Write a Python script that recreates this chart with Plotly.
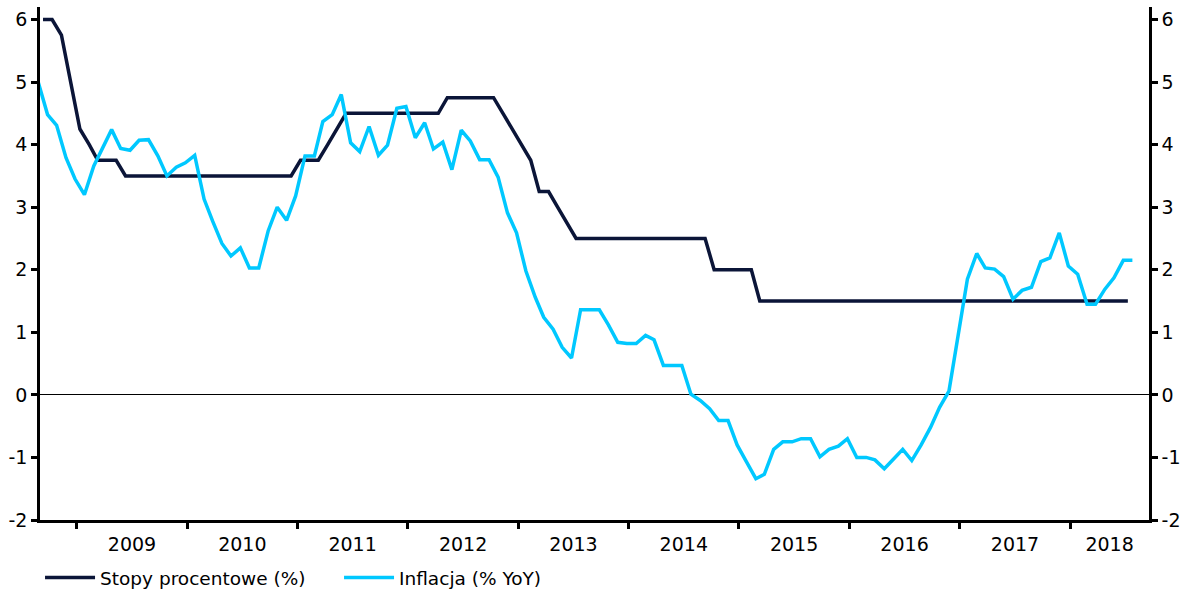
import pandas as pd
import plotly.graph_objects as go

# ---- data -------------------------------------------------------------
# NBP reference rate, monthly Sep 2008 - Jul 2018
rate_months = pd.date_range("2008-09-01", "2018-07-01", freq="MS")
stopy = (
    [6.0, 6.0, 5.75, 5.0]                                   # 2008 Sep-Dec
    + [4.25, 4.0, 3.75, 3.75, 3.75] + [3.5] * 7              # 2009
    + [3.5] * 12                                             # 2010
    + [3.75, 3.75, 3.75, 4.0, 4.25] + [4.5] * 7              # 2011
    + [4.5] * 4 + [4.75] * 6 + [4.5, 4.25]                   # 2012
    + [4.0, 3.75, 3.25, 3.25, 3.0, 2.75] + [2.5] * 6         # 2013
    + [2.5] * 9 + [2.0] * 3                                  # 2014
    + [2.0, 2.0] + [1.5] * 10                                # 2015
    + [1.5] * 12                                             # 2016
    + [1.5] * 12                                             # 2017
    + [1.5] * 7                                              # 2018 Jan-Jul
)

# CPI inflation y/y, monthly Aug 2008 - Jul 2018
infl_months = pd.date_range("2008-08-01", "2018-07-01", freq="MS")
inflacja = [
    5.0,
    4.48, 4.31, 3.79, 3.45, 3.20, 3.66, 3.95, 4.24, 3.94, 3.91, 4.07, 4.08,
    3.82, 3.50, 3.64, 3.71, 3.83, 3.13, 2.78, 2.42, 2.22, 2.35, 2.03, 2.03,
    2.62, 3.00, 2.79, 3.18, 3.82, 3.82, 4.37, 4.48, 4.80, 4.03, 3.89, 4.29,
    3.83, 3.99, 4.58, 4.61, 4.11, 4.35, 3.93, 4.04, 3.60, 4.23, 4.06, 3.76,
    3.76, 3.48, 2.91, 2.59, 1.98, 1.56, 1.24, 1.05, 0.76, 0.59, 1.36, 1.36,
    1.36, 1.12, 0.84, 0.82, 0.82, 0.95, 0.88, 0.47, 0.47, 0.47, 0.01, -0.09,
    -0.22, -0.41, -0.41, -0.80, -1.07, -1.34, -1.27, -0.87, -0.75, -0.75, -0.70, -0.70,
    -0.99, -0.87, -0.82, -0.70, -1.00, -1.00, -1.04, -1.18, -1.03, -0.87, -1.05, -0.80,
    -0.52, -0.20, 0.06, 0.90, 1.85, 2.26, 2.03, 2.01, 1.89, 1.53, 1.67, 1.72,
    2.13, 2.19, 2.59, 2.06, 1.93, 1.45, 1.45, 1.69, 1.87, 2.15, 2.15,
]

years = [2009, 2010, 2011, 2012, 2013, 2014, 2015, 2016, 2017, 2018]
y_ticks = [-2, -1, 0, 1, 2, 3, 4, 5, 6]
y_tick_text = ["-2", "-1", "0", "1", "2", "3", "4", "5", "6"]

# ---- layout helpers ---------------------------------------------------
x_start = pd.Timestamp("2008-09-01")
x_end = pd.Timestamp("2018-09-19")
rate_x = rate_months + pd.DateOffset(days=10)
infl_x = infl_months + pd.DateOffset(days=25)

year_starts = [pd.Timestamp(f"{y}-01-01") for y in years]
label_pos = []
for y in years:
    a = pd.Timestamp(f"{y}-01-01")
    b = min(pd.Timestamp(f"{y + 1}-01-01"), x_end)
    label_pos.append(a + (b - a) / 2)

NAVY = "#0b1538"
CYAN = "#00c8ff"
FONT = "DejaVu Sans"

fig = go.Figure()
fig.add_trace(go.Scatter(
    x=rate_x, y=stopy, mode="lines", name="Stopy procentowe (%)",
    line=dict(color=NAVY, width=3.5),
))
fig.add_trace(go.Scatter(
    x=infl_x, y=inflacja, mode="lines", name="Inflacja (% YoY)",
    line=dict(color=CYAN, width=3.5),
))
# helper trace to create the secondary axes (labels + right axis)
fig.add_trace(go.Scatter(
    x=[], y=[], xaxis="x2", yaxis="y2", showlegend=False, hoverinfo="skip",
))

fig.update_layout(
    width=1188, height=593,
    margin=dict(l=40, r=39, t=7, b=73),
    paper_bgcolor="white", plot_bgcolor="white",
    font=dict(family=FONT, size=19, color="black"),
    showlegend=True,
    legend=dict(
        orientation="h", xref="container", yref="container",
        x=0.0337, xanchor="left", y=0.0253, yanchor="middle",
        font=dict(size=18.5, family=FONT, color="black"),
        itemwidth=50, entrywidth=234, bgcolor="rgba(0,0,0,0)",
        traceorder="normal",
    ),
    xaxis=dict(
        type="date", range=[x_start, x_end], tickvals=year_starts,
        showticklabels=False, ticks="outside", ticklen=6, tickwidth=2.5,
        tickcolor="black", showline=True, linecolor="black", linewidth=2.5,
        showgrid=False, zeroline=False, automargin=False,
    ),
    xaxis2=dict(
        type="date", range=[x_start, x_end], overlaying="x", anchor="y2",
        side="bottom", tickvals=label_pos, ticktext=[str(y) for y in years],
        ticks="outside", ticklen=7, tickcolor="rgba(0,0,0,0)",
        showline=False, showgrid=False, zeroline=False, automargin=False,
        tickfont=dict(family=FONT, size=19, color="black"),
    ),
    yaxis=dict(
        range=[-2, 6.2], tickvals=y_ticks, ticktext=y_tick_text,
        ticks="outside", ticklen=6,
        tickwidth=2.5, tickcolor="black", showline=True, linecolor="black",
        linewidth=2.5, showgrid=False, zeroline=True, zerolinecolor="black",
        zerolinewidth=1, automargin=False,
        tickfont=dict(family=FONT, size=19, color="black"),
    ),
    yaxis2=dict(
        range=[-2, 6.2], overlaying="y", side="right", anchor="x2",
        tickvals=y_ticks, ticktext=y_tick_text,
        ticks="outside", ticklen=6, tickwidth=2.5,
        tickcolor="black", showline=True, linecolor="black", linewidth=2.5,
        showgrid=False, zeroline=False, automargin=False,
        tickfont=dict(family=FONT, size=19, color="black"),
    ),
)

fig.write_html("out.html")
